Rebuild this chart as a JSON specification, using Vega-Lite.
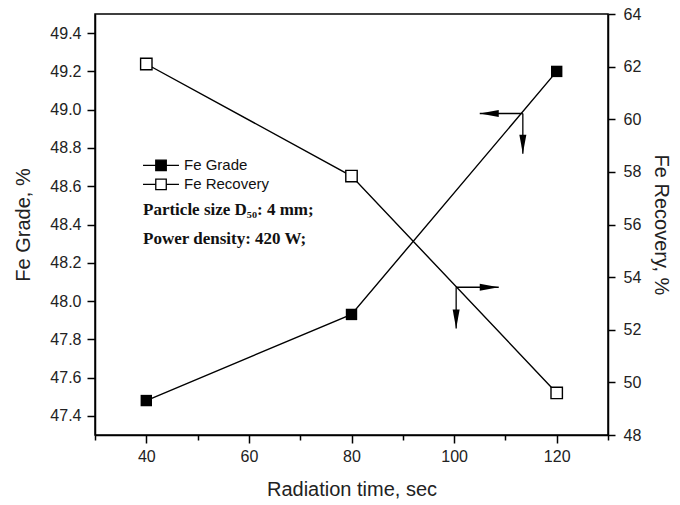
{
  "$schema": "https://vega.github.io/schema/vega-lite/v6.json",
  "width": 513,
  "height": 421,
  "autosize": {"type": "none"},
  "padding": {"left": 95, "top": 14, "right": 72, "bottom": 70},
  "background": "white",
  "config": {
    "view": {"stroke": "black", "strokeWidth": 1.5},
    "axis": {
      "grid": false,
      "domainColor": "black",
      "domainWidth": 1.5,
      "tickColor": "black",
      "tickWidth": 1.5,
      "labelColor": "#222222",
      "labelFont": "Liberation Sans",
      "labelFontSize": 16,
      "titleFont": "Liberation Sans",
      "titleFontSize": 20,
      "titleFontWeight": "normal",
      "titleColor": "#222222"
    }
  },
  "datasets": {
    "series": [
      {"time": 40, "grade": 47.48, "recovery": 62.1},
      {"time": 80, "grade": 47.93, "recovery": 57.84},
      {"time": 120, "grade": 49.2, "recovery": 49.6}
    ],
    "arrows": [
      {"ax": 113.4, "ay": 48.98, "ax2": 105.0, "ay2": 48.98, "dir": "left"},
      {"ax": 113.4, "ay": 48.98, "ax2": 113.4, "ay2": 48.77, "dir": "down"},
      {"ax": 100.4, "ay": 48.072, "ax2": 108.7, "ay2": 48.072, "dir": "right"},
      {"ax": 100.4, "ay": 48.072, "ax2": 100.4, "ay2": 47.856, "dir": "down"}
    ],
    "legend": [
      {"lx": 39.36, "lx2": 46.37, "mx": 42.87, "tx": 47.35, "ly": 48.709, "label": "Fe Grade"},
      {"lx": 39.36, "lx2": 46.37, "mx": 42.87, "tx": 47.35, "ly": 48.61, "label": "Fe Recovery"}
    ],
    "notes": [
      {"nx": 39.36, "ny": 48.474, "note": "Particle size D₅₀: 4 mm;"},
      {"nx": 39.36, "ny": 48.322, "note": "Power density: 420 W;"}
    ]
  },
  "layer": [
    {
      "layer": [
        {
          "data": {"name": "series"},
          "mark": {"type": "line", "color": "black", "strokeWidth": 1.4},
          "encoding": {
            "x": {
              "field": "time", "type": "quantitative",
              "scale": {"domain": [30, 130], "nice": false, "zero": false},
              "title": "Radiation time, sec",
              "axis": {
                "orient": "bottom",
                "values": [30, 40, 50, 60, 70, 80, 90, 100, 110, 120, 130],
                "labelExpr": "datum.value % 20 == 0 ? datum.value : ''",
                "tickSize": {"condition": {"test": "datum.value % 20 == 0", "value": 8}, "value": 5},
                "labelPadding": 5,
                "titlePadding": 15
              }
            },
            "y": {
              "field": "grade", "type": "quantitative",
              "scale": {"domain": [47.3, 49.5], "nice": false, "zero": false},
              "title": "Fe Grade, %",
              "axis": {
                "orient": "left",
                "values": [47.4, 47.5, 47.6, 47.7, 47.8, 47.9, 48.0, 48.1, 48.2, 48.3, 48.4, 48.5, 48.6, 48.7, 48.8, 48.9, 49.0, 49.1, 49.2, 49.3, 49.4],
                "labelExpr": "round(datum.value * 10) % 2 == 0 ? format(datum.value, '.1f') : ''",
                "tickSize": {"condition": {"test": "round(datum.value * 10) % 2 == 0", "value": 8}, "value": 5},
                "labelPadding": 6,
                "titlePadding": 16
              }
            }
          }
        },
        {
          "data": {"name": "series"},
          "mark": {"type": "point", "shape": "square", "filled": true, "color": "black", "size": 130, "opacity": 1},
          "encoding": {
            "x": {"field": "time", "type": "quantitative", "title": "Radiation time, sec"},
            "y": {"field": "grade", "type": "quantitative", "title": "Fe Grade, %"}
          }
        },
        {
          "data": {"name": "arrows"},
          "mark": {"type": "rule", "color": "black", "strokeWidth": 1.3},
          "encoding": {
            "x": {"field": "ax", "type": "quantitative", "title": "Radiation time, sec"},
            "x2": {"field": "ax2"},
            "y": {"field": "ay", "type": "quantitative", "title": "Fe Grade, %"},
            "y2": {"field": "ay2"}
          }
        },
        {
          "data": {"name": "arrows"},
          "mark": {"type": "point", "filled": true, "color": "black", "size": 361, "opacity": 1, "strokeWidth": 0},
          "encoding": {
            "x": {"field": "ax2", "type": "quantitative", "title": "Radiation time, sec"},
            "y": {"field": "ay2", "type": "quantitative", "title": "Fe Grade, %"},
            "shape": {
              "field": "dir", "type": "nominal", "legend": null,
              "scale": {
                "domain": ["left", "down", "right"],
                "range": ["M0,0L2,-0.37L2,0.37Z", "M0,0L-0.37,-2L0.37,-2Z", "M0,0L-2,-0.37L-2,0.37Z"]
              }
            }
          }
        },
        {
          "data": {"name": "legend"},
          "mark": {"type": "rule", "color": "black", "strokeWidth": 1.3},
          "encoding": {
            "x": {"field": "lx", "type": "quantitative", "title": "Radiation time, sec"},
            "x2": {"field": "lx2"},
            "y": {"field": "ly", "type": "quantitative", "title": "Fe Grade, %"}
          }
        },
        {
          "data": {"name": "legend"},
          "mark": {"type": "point", "shape": "square", "filled": true, "stroke": "black", "strokeWidth": 1.3, "size": 110, "opacity": 1},
          "encoding": {
            "x": {"field": "mx", "type": "quantitative", "title": "Radiation time, sec"},
            "y": {"field": "ly", "type": "quantitative", "title": "Fe Grade, %"},
            "fill": {
              "field": "label", "type": "nominal", "legend": null,
              "scale": {"domain": ["Fe Grade", "Fe Recovery"], "range": ["black", "white"]}
            }
          }
        },
        {
          "data": {"name": "legend"},
          "mark": {"type": "text", "align": "left", "baseline": "middle", "font": "Liberation Sans", "fontSize": 15, "color": "#111111"},
          "encoding": {
            "x": {"field": "tx", "type": "quantitative", "title": "Radiation time, sec"},
            "y": {"field": "ly", "type": "quantitative", "title": "Fe Grade, %"},
            "text": {"field": "label"}
          }
        },
        {
          "data": {"name": "notes"},
          "mark": {"type": "text", "align": "left", "baseline": "middle", "font": "Liberation Serif", "fontSize": 17, "fontWeight": "bold", "color": "#111111"},
          "encoding": {
            "x": {"field": "nx", "type": "quantitative", "title": "Radiation time, sec"},
            "y": {"field": "ny", "type": "quantitative", "title": "Fe Grade, %"},
            "text": {"field": "note"}
          }
        }
      ]
    },
    {
      "data": {"name": "series"},
      "layer": [
        {
          "mark": {"type": "line", "color": "black", "strokeWidth": 1.4},
          "encoding": {
            "x": {"field": "time", "type": "quantitative", "title": "Radiation time, sec"},
            "y": {
              "field": "recovery", "type": "quantitative",
              "scale": {"domain": [48, 64], "nice": false, "zero": false},
              "title": "Fe Recovery, %",
              "axis": {
                "orient": "right",
                "values": [48, 49, 50, 51, 52, 53, 54, 55, 56, 57, 58, 59, 60, 61, 62, 63, 64],
                "labelExpr": "datum.value % 2 == 0 ? datum.value : ''",
                "tickSize": {"condition": {"test": "datum.value % 2 == 0", "value": 7}, "value": 5},
                "labelPadding": 8,
                "titlePadding": 10
              }
            }
          }
        },
        {
          "mark": {"type": "point", "shape": "square", "filled": true, "fill": "white", "stroke": "black", "strokeWidth": 1.4, "size": 130, "opacity": 1},
          "encoding": {
            "x": {"field": "time", "type": "quantitative", "title": "Radiation time, sec"},
            "y": {"field": "recovery", "type": "quantitative", "title": "Fe Recovery, %"}
          }
        }
      ]
    }
  ],
  "resolve": {"scale": {"y": "independent"}}
}
